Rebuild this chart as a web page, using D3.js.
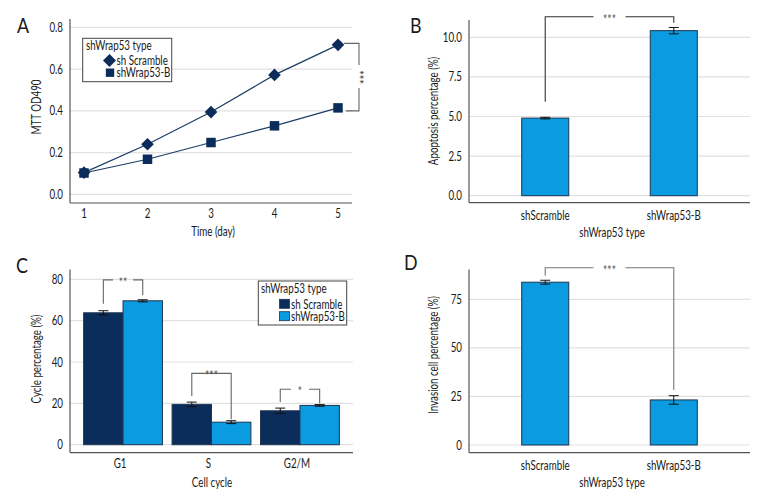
<!DOCTYPE html>
<html><head><meta charset="utf-8">
<script src="https://cdn.jsdelivr.net/npm/d3@7"></script>
<style>
body{margin:0;background:#fff;}
svg text{font-family:"Lato","Open Sans",sans-serif;fill:#1a1a1a;}
</style></head>
<body><svg id="c" width="780" height="504"></svg>
<script>
// ---------- DATA ----------
const seriesNames = ["sh Scramble", "shWrap53-B"];
const days = [1, 2, 3, 4, 5];
const mttScramble = [0.104, 0.240, 0.394, 0.572, 0.716];
const mttWrapB = [0.102, 0.168, 0.248, 0.328, 0.414];
const mttTicks = [0.0, 0.2, 0.4, 0.6, 0.8];

const barCats = ["shScramble", "shWrap53-B"];
const apoptosis = [4.9, 10.42];
const apoptosisErr = [0.05, 0.2];
const apoptosisTicks = [0.0, 2.5, 5.0, 7.5, 10.0];

const phases = ["G1", "S", "G2/M"];
const cycleScramble = [63.8, 19.5, 16.4];
const cycleScrambleErr = [1.0, 1.1, 1.3];
const cycleWrapB = [69.6, 10.9, 19.0];
const cycleWrapBErr = [0.5, 0.7, 0.4];
const cycleTicks = [0, 20, 40, 60, 80];
const cycleSigLabels = ["**", "***", "*"];
const cycleSigLevel = [79.7, 34.5, 26.8];

const invasion = [83.8, 23.2];
const invasionErr = [1.0, 2.2];
const invasionTicks = [0, 25, 50, 75];

const cNavy = "#0a2d5b", cBlue = "#0a9be0";
const svg = d3.select("#c");
const FS = 12.5;

function frame(g, x0, x1, yTop, yBottom, y, ticks, fmt, gridX1) {
  g.append("g").selectAll("line").data(ticks).join("line")
    .attr("x1", x0).attr("x2", gridX1).attr("y1", d => y(d)).attr("y2", d => y(d))
    .attr("stroke", "#e1e1e1").attr("stroke-width", 1.2);
  g.append("g").selectAll("text").data(ticks).join("text")
    .attr("x", x0 - 7).attr("y", d => y(d) + 4.5).attr("text-anchor", "end")
    .attr("font-size", FS).text(fmt);
  g.append("line").attr("x1", x0).attr("x2", x0).attr("y1", yTop).attr("y2", yBottom).attr("stroke", "#555").attr("stroke-width", 1.2);
  g.append("line").attr("x1", x0).attr("x2", x1).attr("y1", yBottom).attr("y2", yBottom).attr("stroke", "#555").attr("stroke-width", 1.2);
}
function label(t, x, y) {
  svg.append("text").attr("x", x).attr("y", y).attr("font-size", 21).attr("class", "plabel").text(t);
}
function ytitle(t, x, y) {
  svg.append("text").attr("transform", `translate(${x},${y}) rotate(-90)`).attr("text-anchor", "middle").attr("font-size", FS).text(t);
}
function xtitle(t, x, y) {
  svg.append("text").attr("x", x).attr("y", y).attr("text-anchor", "middle").attr("font-size", FS).text(t);
}
function errbar(g, x, y, v, e, color) {
  g.append("line").attr("x1", x).attr("x2", x).attr("y1", y(v - e)).attr("y2", y(v + e)).attr("stroke", color);
  [v - e, v + e].forEach(w => g.append("line").attr("x1", x - 5).attr("x2", x + 5).attr("y1", y(w)).attr("y2", y(w)).attr("stroke", color));
}
function bracketH(g, xl, yl, xr, yr, ytop, txt, gapHalf, col) {
  const xm = (xl + xr) / 2;
  g.append("path").attr("d", `M${xl},${yl}V${ytop}H${xm - gapHalf}M${xm + gapHalf},${ytop}H${xr}V${yr}`)
    .attr("fill", "none").attr("stroke", col).attr("stroke-width", 1.1);
  g.append("text").attr("x", xm).attr("y", ytop + 7).attr("text-anchor", "middle").attr("font-size", 13).style("fill", "#555").text(txt);
}

// ---------- PANEL A ----------
{
  const g = svg.append("g");
  const y = d3.scaleLinear().domain([0, 0.8]).range([194.3, 27.3]);
  const x = d3.scaleLinear().domain([1, 5]).range([84, 338]);
  frame(g, 70, 352, y(0.84), 203, y, mttTicks, d => d3.format(".1f")(d), 352);
  g.append("g").selectAll("text").data(days).join("text")
    .attr("x", d => x(d)).attr("y", 218).attr("text-anchor", "middle").attr("font-size", FS).text(d => d);
  const line = d3.line().x((d, i) => x(days[i])).y(d => y(d));
  g.append("path").attr("d", line(mttWrapB)).attr("fill", "none").attr("stroke", "#1d3d66").attr("stroke-width", 1.2);
  g.append("path").attr("d", line(mttScramble)).attr("fill", "none").attr("stroke", "#1d3d66").attr("stroke-width", 1.2);
  const sq = d3.symbol().type(d3.symbolSquare).size(90);
  const dm = d3.symbol().type(d3.symbolSquare).size(80);
  g.append("g").selectAll("path").data(mttWrapB).join("path")
    .attr("transform", (d, i) => `translate(${x(days[i])},${y(d)})`).attr("d", sq).attr("fill", cNavy);
  g.append("g").selectAll("path").data(mttScramble).join("path")
    .attr("transform", (d, i) => `translate(${x(days[i])},${y(d)}) rotate(45)`).attr("d", dm).attr("fill", cNavy);
  // significance bracket
  const yt = y(mttScramble[4]) - 1.5, yb = y(mttWrapB[4]) + 3, bx = 359;
  const ym = (yt + yb) / 2;
  g.append("path").attr("d", `M344,${yt}H${bx}V${ym - 12}M${bx},${ym + 11}V${yb}H346`)
    .attr("fill", "none").attr("stroke", "#666").attr("stroke-width", 1.1);
  g.append("text").attr("transform", `translate(${bx - 5.5},${ym}) rotate(90)`).attr("text-anchor", "middle")
    .attr("font-size", 14).style("fill", "#333").text("***");
  // legend
  const lg = g.append("g");
  lg.append("rect").attr("x", 82.7).attr("y", 38.3).attr("width", 89).attr("height", 43.4).attr("fill", "#fff").attr("stroke", "#444");
  lg.append("text").attr("x", 86).attr("y", 50).attr("font-size", FS).text("shWrap53 type");
  lg.append("path").attr("transform", "translate(109.5,60.5) rotate(45)").attr("d", d3.symbol().type(d3.symbolSquare).size(85)).attr("fill", cNavy);
  lg.append("path").attr("transform", "translate(110,72.7)").attr("d", d3.symbol().type(d3.symbolSquare).size(70)).attr("fill", cNavy);
  lg.append("text").attr("x", 116.5).attr("y", 64.5).attr("font-size", FS).text(seriesNames[0]);
  lg.append("text").attr("x", 116.5).attr("y", 77).attr("font-size", FS).text(seriesNames[1]);
  label("A", 17, 33);
  ytitle("MTT OD490", 41, 107);
  xtitle("Time (day)", 213, 236);
}

// ---------- simple bar panel (B and D) ----------
function barPanel(vals, errs, ticks, fmt, y, yTop, sig, ttl, lab) {
  const g = svg.append("g");
  const x = d3.scaleBand().domain(barCats).range([469, 750]).paddingInner(0.634).paddingOuter(0.41);
  frame(g, 469, 750, yTop, sig.yBottom, y, ticks, fmt, 750);
  g.append("g").selectAll("rect").data(vals).join("rect")
    .attr("x", (d, i) => x(barCats[i])).attr("width", x.bandwidth())
    .attr("y", d => y(d)).attr("height", d => y(0) - y(d))
    .attr("fill", cBlue).attr("stroke", "#1f3550").attr("stroke-width", 1);
  vals.forEach((v, i) => errbar(g, x(barCats[i]) + x.bandwidth() / 2, y, v, errs[i], "#111"));
  g.append("g").selectAll("text").data(barCats).join("text")
    .attr("x", d => x(d) + x.bandwidth() / 2).attr("y", sig.yBottom + 16.8).attr("text-anchor", "middle").attr("font-size", FS).text(d => d);
  const xl = x(barCats[0]) + x.bandwidth() / 2, xr = x(barCats[1]) + x.bandwidth() / 2;
  bracketH(g, xl, y(sig.left), xr, y(sig.right), y(sig.top), "***", 16, sig.col);
  label(lab.t, lab.x, lab.y);
  ytitle(ttl.y, 438, ttl.yc);
  xtitle("shWrap53 type", 612, sig.yBottom + 34.5);
}
{
  const y = d3.scaleLinear().domain([0, 10]).range([195.7, 37.3]);
  barPanel(apoptosis, apoptosisErr, apoptosisTicks, d => d3.format(".1f")(d), y, y(11.1),
    {yBottom: 202.7, left: 5.93, right: 10.92, top: 11.3, col: "#333"},
    {y: "Apoptosis percentage (%)", yc: 111}, {t: "B", x: 410, y: 33});
}
{
  const y = d3.scaleLinear().domain([0, 75]).range([445, 299.3]);
  barPanel(invasion, invasionErr, invasionTicks, d => d, y, y(90.4),
    {yBottom: 452.7, left: 87.1, right: 28.3, top: 91.25, col: "#777"},
    {y: "Invasion cell percentage (%)", yc: 355}, {t: "D", x: 404, y: 270});
}

// ---------- PANEL C ----------
{
  const g = svg.append("g");
  const y = d3.scaleLinear().domain([0, 80]).range([444.7, 279.3]);
  const x0 = d3.scaleBand().domain(phases).range([70, 353]).paddingInner(0.109).paddingOuter(0.154);
  const x1 = d3.scaleBand().domain(seriesNames).range([0, x0.bandwidth()]);
  frame(g, 70, 353, y(84.8), 452.7, y, cycleTicks, d => d, 353);
  const sets = [[cycleScramble, cycleScrambleErr, cNavy], [cycleWrapB, cycleWrapBErr, cBlue]];
  sets.forEach((s, k) => {
    g.append("g").selectAll("rect").data(s[0]).join("rect")
      .attr("x", (d, i) => x0(phases[i]) + x1(seriesNames[k])).attr("width", x1.bandwidth())
      .attr("y", d => y(d)).attr("height", d => y(0) - y(d))
      .attr("fill", s[2]).attr("stroke", "#1f3550").attr("stroke-width", 1);
  });
  sets.forEach((s, k) => s[0].forEach((v, i) =>
    errbar(g, x0(phases[i]) + x1(seriesNames[k]) + x1.bandwidth() / 2, y, v, s[1][i], "#111")));
  g.append("g").selectAll("text").data(phases).join("text")
    .attr("x", d => x0(d) + x0.bandwidth() / 2 - 3).attr("y", 467.5).attr("text-anchor", "middle").attr("font-size", FS).text(d => d);
  const gaps = [10, 0, 9];
  phases.forEach((p, i) => {
    const xl = x0(p) + x1(seriesNames[0]) + x1.bandwidth() / 2;
    const xr = x0(p) + x1(seriesNames[1]) + x1.bandwidth() / 2;
    const lv = cycleScramble[i] + cycleScrambleErr[i] + (i === 0 ? 3.4 : 3);
    const rv = cycleWrapB[i] + cycleWrapBErr[i] + (i === 0 ? 2.2 : 0.7);
    bracketH(g, xl, y(lv), xr, y(rv), y(cycleSigLevel[i]), cycleSigLabels[i], gaps[i], "#666");
  });
  // legend
  const lg = g.append("g");
  lg.append("rect").attr("x", 258.3).attr("y", 281).attr("width", 88.4).attr("height", 44).attr("fill", "#fff").attr("stroke", "#444");
  lg.append("text").attr("x", 261).attr("y", 292.5).attr("font-size", FS).text("shWrap53 type");
  [cNavy, cBlue].forEach((c, k) => {
    lg.append("rect").attr("x", 279.5).attr("y", 299.3 + k * 12.4).attr("width", 10).attr("height", 9)
      .attr("fill", c).attr("stroke", "#1f3550").attr("stroke-width", 0.8);
    lg.append("text").attr("x", 291).attr("y", 308.5 + k * 12.4).attr("font-size", FS).text(seriesNames[k]);
  });
  label("C", 16, 273);
  ytitle("Cycle percentage (%)", 41, 359);
  xtitle("Cell cycle", 212, 487);
}

// condense all texts horizontally (reference uses a condensed face)
svg.selectAll("text").each(function () {
  const f = this.classList.contains("plabel") ? 0.85 : 0.78;
  const w = this.getComputedTextLength();
  if (w > 0) { this.setAttribute("textLength", (w * f).toFixed(2)); this.setAttribute("lengthAdjust", "spacingAndGlyphs"); }
});
</script></body></html>
